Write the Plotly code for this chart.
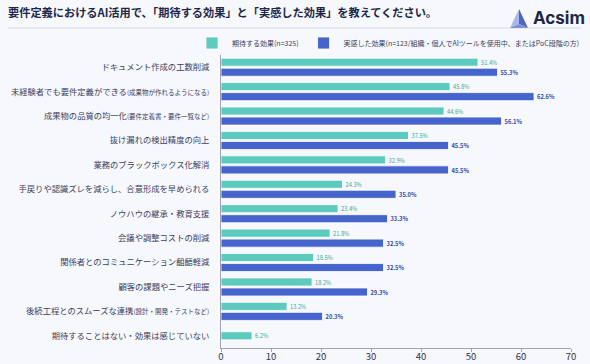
import plotly.graph_objects as go

categories = [
    "ドキュメント作成の工数削減",
    "未経験者でも要件定義ができる<span style='font-size:6.5px'>(成果物が作れるようになる)</span>",
    "成果物の品質の均一化<span style='font-size:6.5px'>(要件定義書・要件一覧など)</span>",
    "抜け漏れの検出精度の向上",
    "業務のブラックボックス化解消",
    "手戻りや認識ズレを減らし、合意形成を早められる",
    "ノウハウの継承・教育支援",
    "会議や調整コストの削減",
    "関係者とのコミュニケーション齟齬軽減",
    "顧客の課題やニーズ把握",
    "後続工程とのスムーズな連携<span style='font-size:6.5px'>(設計・開発・テストなど)</span>",
]
last_category = "期待することはない・効果は感じていない"
expected = [51.4, 45.8, 44.6, 37.5, 32.9, 24.3, 23.4, 21.8, 18.5, 18.2, 13.2]
experienced = [55.3, 62.6, 56.1, 45.5, 45.5, 35.0, 33.3, 32.5, 32.5, 29.3, 20.3]
last_expected = [6.2]
x_ticks = [0, 10, 20, 30, 40, 50, 60, 70]

name_expected = "期待する効果(n=325)"
name_experienced = "実感した効果(n=123/組織・個人でAIツールを使用中、またはPoC段階の方)"

TEAL = "#5CCABD"
BLUE = "#4665CC"
TEAL_TXT = "#35A899"
BLUE_TXT = "#2D4CB5"
FONT = "Noto Sans CJK JP"
all_cats = categories + [last_category]

fig = go.Figure()
fig.add_trace(go.Bar(
    y=categories, x=expected, orientation="h", name=name_expected,
    marker=dict(color=TEAL, line=dict(color="#ffffff", width=0.8)),
    offset=-0.37, width=0.33,
    text=[f"{v:.1f}%" for v in expected], textposition="outside",
    textfont=dict(color=TEAL_TXT, size=8.5, family=FONT), cliponaxis=False,
))
fig.add_trace(go.Bar(
    y=categories, x=experienced, orientation="h", name=name_experienced,
    marker=dict(color=BLUE, line=dict(color="#ffffff", width=0.8)),
    offset=0.04, width=0.33,
    text=[f"<b>{v:.1f}%</b>" for v in experienced], textposition="outside",
    textfont=dict(color=BLUE_TXT, size=8.5, family=FONT), cliponaxis=False,
))
fig.add_trace(go.Bar(
    y=[last_category], x=last_expected, orientation="h", name=name_expected,
    showlegend=False,
    marker=dict(color=TEAL, line=dict(color="#ffffff", width=0.8)),
    offset=-0.165, width=0.33,
    text=[f"{v:.1f}%" for v in last_expected], textposition="outside",
    textfont=dict(color=TEAL_TXT, size=8.5, family=FONT), cliponaxis=False,
))

BG = "#F7F8FC"
fig.update_layout(
    width=590, height=364,
    paper_bgcolor=BG, plot_bgcolor=BG,
    margin=dict(l=221, r=19, t=55, b=16, autoexpand=False),
    barmode="overlay",
    font=dict(family=FONT, color="#3A4062"),
    title=dict(
        text="<b>要件定義におけるAI活用で、「期待する効果」と「実感した効果」を教えてください。</b>",
        x=8/590, xanchor="left", y=1 - 13/364, yanchor="middle",
        xref="container", yref="container", pad=dict(l=0, r=0, t=0, b=0),
        font=dict(size=11.2, color="#1E2749", family=FONT),
    ),
    legend=dict(
        orientation="h", xref="paper", yref="paper",
        x=(192-221)/350, xanchor="left", y=1 + (55-43)/293, yanchor="middle",
        font=dict(size=7, color="#3A4062"), bgcolor="rgba(0,0,0,0)",
        tracegroupgap=0, itemwidth=30,
    ),
    xaxis=dict(
        range=[0, 70], tickvals=x_ticks, showgrid=False, zeroline=False,
        showline=True, linecolor="#9EA3BA", linewidth=1, automargin=False,
        ticks="outside", ticklen=3, tickcolor="#9EA3BA", ticklabelstandoff=-3,
        tickfont=dict(size=9.5, color="#2B3152"),
    ),
    yaxis=dict(
        categoryorder="array", categoryarray=all_cats, autorange="reversed",
        showgrid=False, showline=True, linecolor="#9EA3BA", linewidth=1,
        ticks="", ticklabelstandoff=9, automargin=False,
        tickfont=dict(size=8.3, color="#3A4062"),
    ),
    shapes=[
        dict(type="line", xref="paper", yref="paper",
             x0=-221/350 + 8/350, x1=1 + 11/350, y0=1 + 27/293, y1=1 + 27/293,
             line=dict(color="#D5D9EA", width=1)),
        dict(type="path", xref="paper", yref="paper",
             path=f"M {(510-221)/350},{1+(55-28)/293} L {(519-221)/350},{1+(55-9)/293} L {(519-221)/350},{1+(55-24)/293} Z",
             fillcolor="#A9B8E6", line=dict(width=0)),
        dict(type="path", xref="paper", yref="paper",
             path=f"M {(519-221)/350},{1+(55-9)/293} L {(528-221)/350},{1+(55-28)/293} L {(519-221)/350},{1+(55-24)/293} Z",
             fillcolor="#4E66C4", line=dict(width=0)),
        dict(type="path", xref="paper", yref="paper",
             path=f"M {(510-221)/350},{1+(55-28)/293} L {(519-221)/350},{1+(55-24)/293} L {(528-221)/350},{1+(55-28)/293} Z",
             fillcolor="#7C8FD6", line=dict(width=0)),
    ],
    annotations=[
        dict(text="<b>Acsim</b>", xref="paper", yref="paper",
             x=(531-221)/350, y=1 + (55-18)/293, xanchor="left", yanchor="middle",
             showarrow=False, font=dict(size=17, color="#1E2749", family="Inter")),
    ],
)

fig.write_html(
    "out.html",
    config={"displayModeBar": False},
    post_script="document.body.style.margin='0';document.body.style.padding='0';",
)
